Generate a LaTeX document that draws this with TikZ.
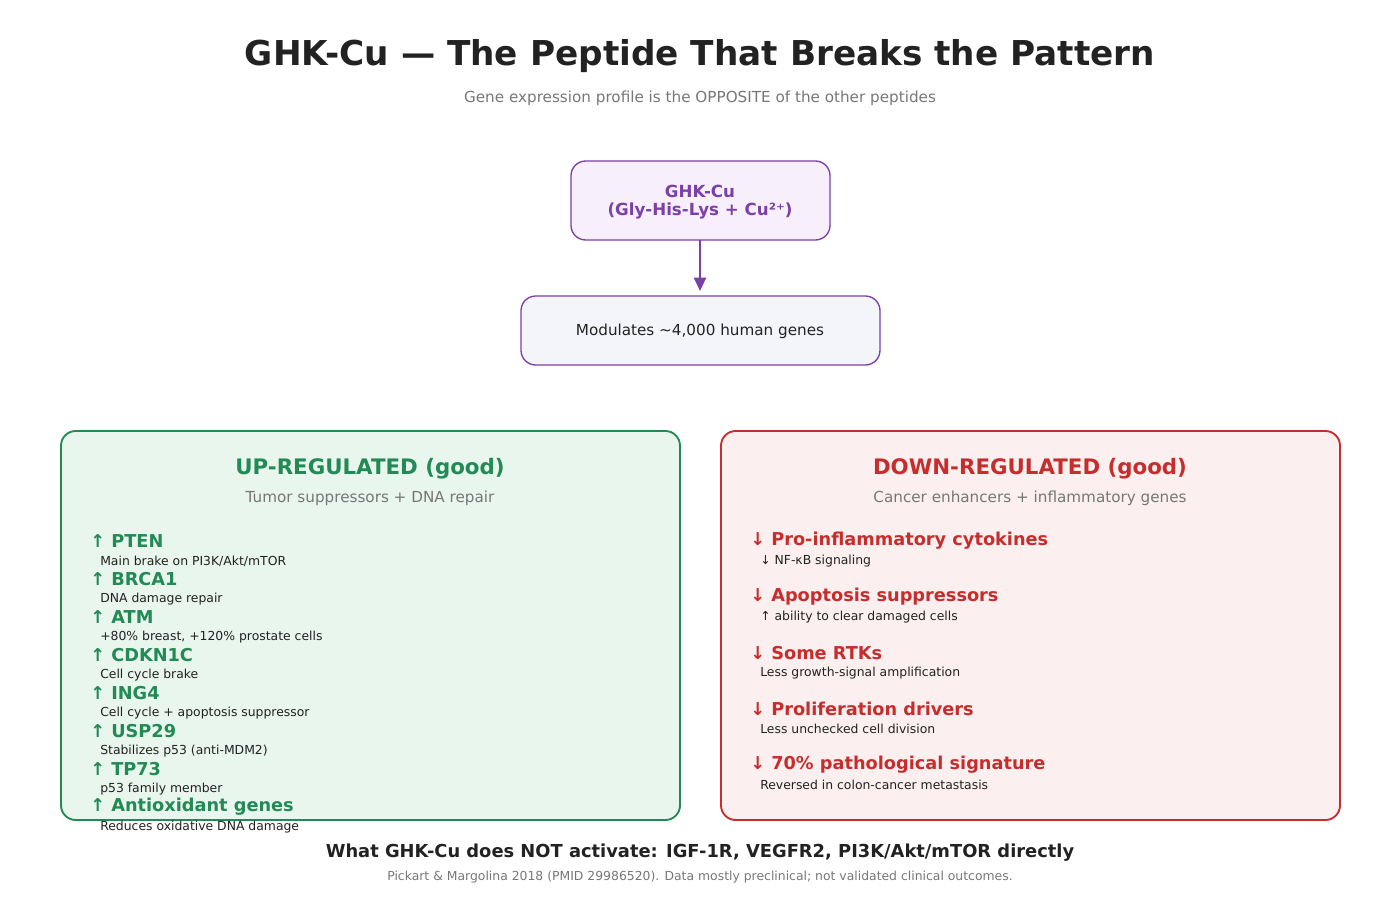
\documentclass[tikz,border=0pt]{standalone}
\usepackage{fontspec}
\setmainfont{DejaVu Sans}
\usetikzlibrary{positioning,arrows.meta}
\definecolor{ink}{HTML}{222222}
\definecolor{mute}{HTML}{777777}
\definecolor{grape}{HTML}{7B3FA8}
\definecolor{grapebg}{HTML}{F7EFFB}
\definecolor{mist}{HTML}{F4F5FA}
\definecolor{leaf}{HTML}{218A55}
\definecolor{leafbg}{HTML}{E8F6EE}
\definecolor{brick}{HTML}{C62E2E}
\definecolor{brickbg}{HTML}{FCEFEF}
\tikzset{
  panel/.style={draw, rounded corners=11pt, line width=1.4pt},
  gene/.style={anchor=west, font=\fontsize{13.3}{14}\selectfont\bfseries, inner sep=0pt},
  note/.style={anchor=west, font=\fontsize{9.3}{10}\selectfont, text=ink, inner sep=0pt},
}
\begin{document}
\begin{tikzpicture}[x=0.75pt, y=-0.75pt]
    \useasboundingbox (0,0) rectangle (1400,900);

    % Title
    \node[font=\fontsize{25.7}{28}\selectfont\bfseries, text=ink] (title) at (700,56) {GHK-Cu — The Peptide That Breaks the Pattern};
    \node[font=\fontsize{11.4}{12}\selectfont, text=mute] (sub) at (700,98) {Gene expression profile is the OPPOSITE of the other peptides};

    % Peptide and genes count
    \draw[panel, grape, fill=grapebg, line width=1pt] (571,161) rectangle (830,240);
    \node[font=\fontsize{12.5}{14}\selectfont\bfseries, text=grape, align=center] (ghk) at (700,202) {GHK-Cu\\(Gly-His-Lys + Cu²⁺)};
    \draw[panel, grape, fill=mist, line width=1pt] (521,296) rectangle (880,365);
    \node[font=\fontsize{11.4}{12}\selectfont, text=ink] (genes) at (700,331.5) {Modulates \textasciitilde4,000 human genes};
    \coordinate (ghkb) at (700,240);
    \coordinate (genest) at (700,291);
    \draw[-{Triangle[length=10pt,width=9pt]}, grape, line width=1.5pt] (ghkb) -- (genest);

    % Up-regulated panel
    \draw[panel, leaf, fill=leafbg] (61,431) rectangle (680,820);
    \node[font=\fontsize{16}{17}\selectfont\bfseries, text=leaf] (uphead) at (370,468.5) {UP-REGULATED (good)};
    \node[font=\fontsize{11.4}{12}\selectfont, text=mute] (upsub) at (370,498) {Tumor suppressors + DNA repair};
    \foreach \g/\d [count=\i from 0] in {PTEN/{Main brake on PI3K/Akt/mTOR}, BRCA1/DNA damage repair,
        ATM/{+80\% breast, +120\% prostate cells}, CDKN1C/Cell cycle brake,
        ING4/Cell cycle + apoptosis suppressor, USP29/Stabilizes p53 (anti-MDM2),
        TP73/p53 family member, Antioxidant genes/Reduces oxidative DNA damage} {
        \node[gene, text=leaf] (up\i) at (90,{541+38*\i}) {↑ \g};
        \node[note] (upn\i) at (100,{561+38*\i}) {\d};
    }

    % Down-regulated panel
    \draw[panel, brick, fill=brickbg] (721,431) rectangle (1340,820);
    \node[font=\fontsize{16}{17}\selectfont\bfseries, text=brick] (dnhead) at (1030,468.5) {DOWN-REGULATED (good)};
    \node[font=\fontsize{11.4}{12}\selectfont, text=mute] (dnsub) at (1030,498) {Cancer enhancers + inflammatory genes};
    \foreach \g/\d [count=\i from 0] in {Pro-inflammatory cytokines/↓ NF-κB signaling,
        Apoptosis suppressors/↑ ability to clear damaged cells, Some RTKs/Less growth-signal amplification,
        Proliferation drivers/Less unchecked cell division, 70\% pathological signature/Reversed in colon-cancer metastasis} {
        \node[gene, text=brick] (dn\i) at (750,{541+56*\i}) {↓ \g};
        \node[note] (dnn\i) at (760,{561+56*\i}) {\d};
    }

    % Footer
    \node[font=\fontsize{13.4}{14}\selectfont\bfseries, text=ink] (notact) at (700,853) {What GHK-Cu does NOT activate: IGF-1R, VEGFR2, PI3K/Akt/mTOR directly};
    \node[font=\fontsize{9.3}{10}\selectfont, text=mute] (cite) at (700,877) {Pickart \& Margolina 2018 (PMID 29986520). Data mostly preclinical; not validated clinical outcomes.};
\end{tikzpicture}
\end{document}
